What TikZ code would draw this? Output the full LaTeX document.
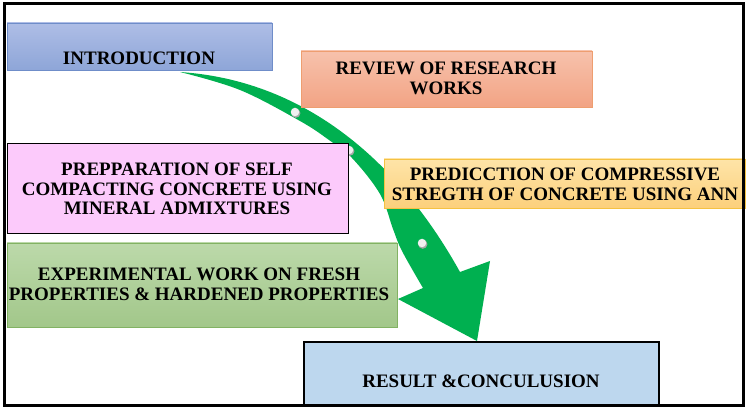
\documentclass[tikz,border=0pt]{standalone}
\usepackage{fontspec}
\setmainfont{Liberation Serif}
\definecolor{arrowgreen}{HTML}{00B050}
\definecolor{introtop}{HTML}{AEBDE6}
\definecolor{introbot}{HTML}{8EA6D8}
\definecolor{introline}{HTML}{6F8DC9}
\definecolor{revtop}{HTML}{F7C2AC}
\definecolor{revbot}{HTML}{F2A384}
\definecolor{revline}{HTML}{EE9E70}
\definecolor{predtop}{HTML}{FEE4A8}
\definecolor{predbot}{HTML}{FCD07C}
\definecolor{predline}{HTML}{F5C242}
\definecolor{exptop}{HTML}{BCD9AA}
\definecolor{expbot}{HTML}{A2C78A}
\definecolor{expline}{HTML}{82B263}
\definecolor{preppink}{HTML}{FCCAFB}
\definecolor{resblue}{HTML}{BDD7EE}
\tikzset{
  boxbase/.style={rectangle, inner sep=0pt},
  labeltext/.style={inner sep=0pt, anchor=north, align=center,
    font=\fontsize{19}{19.5}\selectfont\bfseries},
  dotmark/.style={circle, inner sep=0pt, minimum size=8.5pt, fill=gray!12}
}
\begin{document}
\begin{tikzpicture}[x=1pt,y=-1pt]
\useasboundingbox (0,0) rectangle (748,409);
\fill[white] (0,0) rectangle (748,409);
% green curved arrow
\coordinate (tail) at (180,72);
\coordinate (headouter) at (460,272);
\coordinate (barbright) at (490,261);
\coordinate (tip) at (477,341);
\coordinate (barbleft) at (398,299);
\coordinate (headinner) at (423,288);
\fill[arrowgreen] (tail) .. controls (300,80) and (395,155) .. (headouter)
  -- (barbright) -- (tip) -- (barbleft) -- (headinner)
  -- plot[smooth, tension=0.6] coordinates {(423,288) (402,251) (393,229) (380,194) (352,158) (329,140) (300,121) (240,90) (180,72)}
  -- cycle;
% dots on arrow
\foreach \n/\p in {d1/{(295,112)}, d2/{(349,150)}, d3/{(422,243)}}{
  \fill[black!35] \p ++(0.8,1.2) circle (4.6pt);
  \node[dotmark] (\n) at \p {};
}
% boxes
\node[boxbase, draw=introline, top color=introtop, bottom color=introbot,
  minimum width=265pt, minimum height=47pt] (intro) at (139.5,46.5) {};
\node[boxbase, draw=revline, top color=revtop, bottom color=revbot,
  minimum width=291pt, minimum height=56pt] (review) at (446.5,79) {};
\node[boxbase, draw=black, fill=preppink,
  minimum width=341pt, minimum height=90pt] (prep) at (177.5,188) {};
\node[boxbase, draw=predline, top color=predtop, bottom color=predbot,
  minimum width=361pt, minimum height=49pt] (pred) at (564.5,183.5) {};
\node[boxbase, draw=expline, top color=exptop, bottom color=expbot,
  minimum width=390pt, minimum height=84pt] (exp) at (202,285) {};
\node[boxbase, draw=black, line width=1.6pt, fill=resblue,
  minimum width=355pt, minimum height=63pt] (result) at (481.5,373.5) {};
% texts
\node[labeltext] (introtext) at (139,52) {INTRODUCTION};
\node[labeltext] (reviewtext) at (446,62) {REVIEW OF RESEARCH\\WORKS};
\node[labeltext] (preptext) at (177,163) {PREPPARATION OF SELF\\COMPACTING CONCRETE USING\\MINERAL ADMIXTURES};
\node[labeltext] (predtext) at (565,168) {PREDICCTION OF COMPRESSIVE\\STREGTH OF CONCRETE USING ANN};
\node[labeltext] (exptext) at (199,268) {EXPERIMENTAL WORK ON FRESH\\PROPERTIES \& HARDENED PROPERTIES};
\node[labeltext] (resulttext) at (481,375) {RESULT \&CONCULUSION};
% frame
\draw[black, line width=3pt] (4.5,3.5) rectangle (743.5,405.5);
\end{tikzpicture}
\end{document}
